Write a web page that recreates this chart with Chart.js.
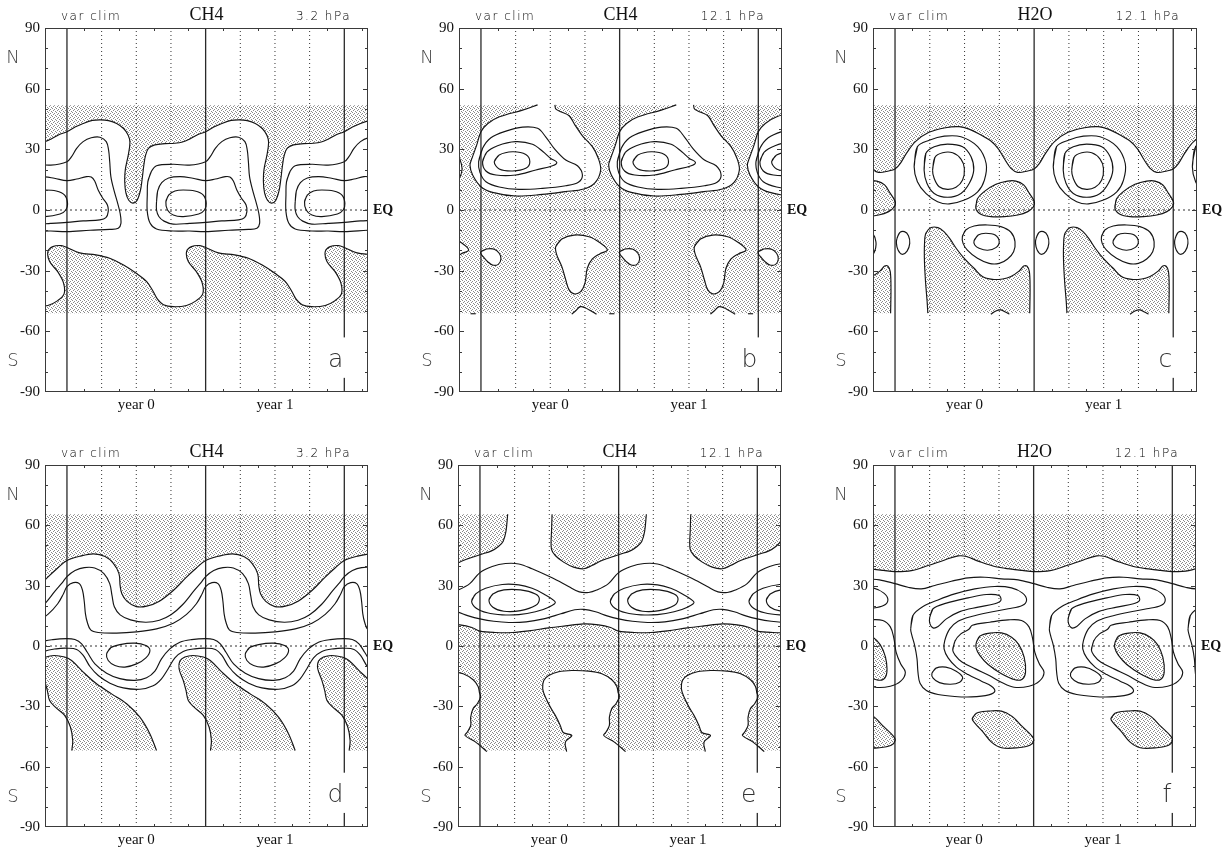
<!DOCTYPE html>
<html>
<head>
<meta charset="utf-8">
<title>var clim CH4 / H2O</title>
<script src="https://cdn.jsdelivr.net/npm/chart.js@4.4.1/dist/chart.umd.min.js"></script>
<style>
  html, body { margin: 0; padding: 0; background: #fff; }
  body { position: relative; width: 1225px; height: 847px; overflow: hidden; }
  .panel { position: absolute; }
</style>
</head>
<body>
<div class="panel" style="left:0px;top:0px"><canvas id="pa" width="410" height="420"></canvas></div>
<div class="panel" style="left:414px;top:0px"><canvas id="pb" width="410" height="420"></canvas></div>
<div class="panel" style="left:828px;top:0px"><canvas id="pc" width="397" height="420"></canvas></div>
<div class="panel" style="left:0px;top:437px"><canvas id="pd" width="410" height="418"></canvas></div>
<div class="panel" style="left:413px;top:437px"><canvas id="pe" width="410" height="418"></canvas></div>
<div class="panel" style="left:828px;top:437px"><canvas id="pf" width="397" height="418"></canvas></div>
<script>
/* Time axis in months from the start of year 0, latitude in degrees. */
const X_MIN = -1.9, X_MAX = 26.05;
const yearLabels  = ['year 0', 'year 1'];
const yearCentres = [6, 18];
const yearBounds  = [0, 12, 24];
const seasonMarks = [3, 6, 9, 15, 18, 21];
const monthTicks  = [1.5, 4.5, 7.5, 10.5, 13.5, 16.5, 19.5, 22.5, 25.5];

const panelIds = ['pa', 'pb', 'pc', 'pd', 'pe', 'pf'];
const species  = ['CH4', 'CH4', 'H2O', 'CH4', 'CH4', 'H2O'];
const levels   = ['3.2 hPa', '12.1 hPa', '12.1 hPa', '3.2 hPa', '12.1 hPa', '12.1 hPa'];
const letters  = ['a', 'b', 'c', 'd', 'e', 'f'];

/* latitude band that carries the shading, per row */
const bandTop    = [-51, 51.8];
const bandBottom = [-52, 65.5];

/* ---- contours: [month, latitude], one climatological year ---- */
// a  CH4 3.2 hPa
const aUpper = [[0,38.7],[0.7,41],[1.4,42.8],[2.2,44.3],[2.9,44.6],[3.6,44.2],[4.3,42.8],[4.9,40.3],[5.3,37],[5.45,33.5],[5.3,27],[5.05,20],[5.0,14],[5.1,8.5],[5.35,4.8],[5.7,3.4],[6.05,4.6],[6.35,9.5],[6.5,15],[6.65,22],[6.8,27],[7.05,30.5],[7.6,32.2],[8.5,32.8],[9.3,33],[10,33.6],[10.6,35],[11.3,37.2],[12,38.7]];
const aLower = [[0,-18.5],[1.1,-21.2],[2.5,-22.2],[3.7,-23.9],[4.9,-27.2],[6.0,-31.3],[6.9,-35.4],[7.45,-40.2],[7.8,-43.8],[8.35,-46.8],[9.2,-47.8],[10.35,-47.2],[11.2,-44.8],[11.75,-41.5],[11.7,-36],[11.2,-30.5],[10.5,-25.5],[10.35,-20.6],[10.78,-18.1],[11.5,-17.6],[12,-18.5]];
const aRing1 = [[7.0,14],[7.3,19],[7.75,21.9],[9.2,22.6],[10.6,22.2],[12,23.9],[12.4,26.4],[12.84,30.5],[13.4,33.8],[14.1,35.7],[14.85,36],[15.4,33.8],[15.6,29.7],[15.7,23.9],[15.8,16.5],[16.06,9.9],[16.35,4.1],[16.6,-1.6],[16.67,-6.6],[16.44,-9],[15.7,-9.6],[14,-10],[12,-10.7],[10.6,-10.4],[9.2,-10.4],[7.75,-9.4],[7.2,-6.6],[6.95,-0.8],[6.95,7.4]];
const aRing2 = [[7.75,4],[7.85,9.5],[8.2,13.5],[8.8,15.8],[9.8,16.5],[10.9,15.7],[12,14.5],[12.84,15.3],[13.7,16.5],[14.1,16.3],[14.4,14.3],[14.7,9.9],[15.1,5.8],[15.5,2.5],[15.57,-0.8],[15.37,-3.8],[14.85,-4.9],[13.4,-5.4],[12,-6.1],[10.6,-6.6],[9.2,-7],[8.4,-5.5],[7.95,-3.2],[7.75,0]];
const aRing3 = [[8.56,4.1],[8.8,7.4],[9.34,9.4],[10.06,9.9],[11.07,9.4],[11.8,7.4],[12.05,3.3],[11.9,0],[11.4,-2],[10.06,-3.3],[9.2,-2.5],[8.7,0]];

// b  CH4 12.1 hPa
const bOuter = [[4.9,52],[3.6,49.4],[1.6,46.1],[0.6,42.8],[0,38.7],[-0.37,32.1],[-0.78,25.5],[-0.95,22.2],[-0.72,17.3],[0,11.5],[1.0,8.7],[3.0,6.9],[5.3,7.7],[7.3,9.1],[8.9,10.4],[9.9,13.7],[10.36,19.8],[10.16,25.5],[9.64,31.3],[8.78,36.7],[8.14,42],[7.63,46.6],[6.9,48.6],[6.47,50],[6.4,52]];
const bRing1 = [[-0.2,23.9],[0.14,30.5],[0.86,35.7],[2.16,39],[3.6,41],[4.9,40.4],[5.6,36.2],[6.33,30.5],[7.34,24.7],[8.35,21.9],[8.78,17.3],[8.43,13.7],[7.34,12],[5.32,10.7],[3.3,10.2],[1.58,11.4],[0.43,14],[-0.09,18.6]];
const bRing2 = [[0.14,23.9],[0.49,28.5],[1.44,31.8],[3.0,33.8],[4.46,32.5],[5.38,28.8],[6.04,25.5],[6.56,23.6],[6.19,21.9],[4.75,19.8],[3.0,17.3],[1.3,17.3],[0.43,19.3]];
const bRing3 = [[1.15,23.9],[1.58,27.2],[2.73,28.8],[3.88,27.5],[4.23,23.9],[3.88,20.6],[2.73,19.3],[1.58,20.3]];
const bHoleSmall = [[0,-20.6],[0.49,-19.3],[1.15,-19.4],[1.58,-21.4],[1.73,-24.2],[1.5,-26.9],[1.0,-27.2],[0.58,-25.5],[0.2,-23.1],[0,-21.6]];
const bHoleLarge = [[6.47,-18.1],[7.0,-14.3],[8.06,-12.4],[9.35,-13.2],[10.27,-16.1],[10.94,-19.8],[10.27,-21.7],[9.64,-24.2],[9.2,-28.8],[9.0,-36.2],[8.63,-40.4],[8.06,-41.5],[7.63,-39.5],[7.34,-34.6],[7.0,-28],[6.56,-22.2]];
const bArch = [[7.85,-51.5],[8.2,-49.8],[8.6,-47.8],[9.0,-48.3],[9.5,-49.8],[10.0,-51.5]];
const bDash = [[11.1,-51.3],[11.55,-51.3]];

// c  H2O 12.1 hPa
const cUpper = [[0,20.3],[0.46,23.1],[0.98,28],[1.76,33.8],[2.92,38.4],[4.36,40.7],[5.52,41.2],[6.39,40],[7.25,37.6],[8.27,34.1],[8.93,30.1],[9.5,24.7],[10,20.6],[10.58,18.6],[11.45,19.3],[12,20.3]];
const cRing1 = [[1.65,21.4],[1.93,31.3],[2.95,34.5],[4.25,36.5],[5.69,36.2],[7.13,31.3],[7.86,23],[7.71,14.8],[7.13,9],[5.98,4.9],[4.68,3],[3.67,4.1],[2.66,8.2],[1.93,14]];
const cRing2 = [[2.51,19.7],[2.66,28],[3.38,31.3],[4.53,32.6],[5.83,31.3],[6.56,26.3],[6.79,19.7],[6.41,13.2],[5.69,8.2],[4.53,6.3],[3.38,8.2],[2.75,13.2]];
const cRing3 = [[3.24,19.7],[3.44,26],[4.1,28.3],[4.97,28.3],[5.69,25.2],[5.98,20.6],[5.83,14.8],[5.26,11.2],[4.53,10.2],[3.81,11.5],[3.38,15.6]];
const cPatchEq = [[6.97,0.8],[7.1,5.4],[7.69,9.1],[8.7,12.7],[9.71,14.3],[10.43,14.3],[11.1,12.4],[11.59,8.2],[12.02,4.1],[11.94,1.6],[11.45,-0.8],[10.58,-2.5],[9.42,-3.3],[8.27,-3.3],[7.4,-2.1]];
const cOval = [[0.17,-14],[0.4,-11.2],[0.81,-10.7],[1.16,-12.7],[1.27,-16.5],[1.04,-20.3],[0.61,-21.9],[0.26,-19.8],[0.12,-16.5]];
const cRingS1 = [[5.81,-13.2],[6.1,-9.9],[6.82,-7.9],[7.98,-7.4],[9.13,-8.2],[10.0,-11],[10.35,-15.7],[10.23,-20.6],[9.71,-24.2],[8.99,-26.4],[8.12,-26.4],[7.11,-23.9],[6.24,-19.8],[5.87,-16.5]];
const cRingS2 = [[6.82,-15.2],[7.17,-12.4],[7.83,-11.5],[8.64,-12.4],[8.99,-15.7],[8.7,-18.6],[7.98,-19.9],[7.25,-18.9],[6.88,-17.3]];
const cLower = [[2.83,-51],[2.77,-45.3],[2.63,-35.4],[2.54,-25.5],[2.54,-17.3],[2.66,-11.5],[3.12,-8.7],[3.7,-8.7],[4.22,-10.7],[4.74,-14.3],[5.32,-19.3],[6.01,-24.2],[6.82,-28.8],[7.54,-32.9],[8.41,-34.3],[9.28,-34.1],[10,-32.9],[10.72,-30.1],[11.1,-27.7],[11.39,-27.8],[11.59,-30.5],[11.65,-38.7],[11.62,-51]];
const cArch = [[8.27,-51.5],[8.7,-49.9],[9.13,-49.4],[9.57,-50.6],[9.86,-51.5]];

// d  CH4 3.2 hPa
const dUpper = [[0,42.5],[1.1,44.6],[2.3,45.8],[3.3,44.5],[4.0,41.2],[4.5,36],[4.6,30],[4.75,26],[5.2,22.2],[6.0,19.6],[6.9,19.8],[8.0,22.3],[9.2,27.6],[10.3,34],[11.2,38.8],[12,42.5]];
const dBand2 = [[0,34.5],[0.7,37.5],[1.5,39],[2.4,38.8],[3.2,36],[3.7,31],[3.9,25],[4.1,19.5],[4.6,15.5],[5.5,13],[6.8,11.8],[8.0,12.8],[9.0,15.5],[10.0,20.5],[11.0,27.5],[11.6,31.5],[12,34.5]];
const dBand3 = [[0,29.5],[0.55,31.5],[1.07,31],[1.35,27.6],[1.5,22],[1.6,16],[1.76,11.8],[2.05,8],[2.7,6.7],[4.3,6.4],[6.0,7],[7.75,8.5],[9.2,11.3],[10.35,15.7],[11.2,21],[11.7,26],[12,29.5]];
const dBand4 = [[0,3.7],[0.69,3.2],[1.27,1.1],[1.76,-3.1],[2.42,-8.9],[3.43,-13.5],[4.58,-16.2],[5.88,-17.1],[6.89,-15.8],[7.61,-12.5],[8.18,-6.4],[8.9,-1.4],[9.77,1.9],[10.78,3.2],[12,3.7]];
const dBand5 = [[0,-1.1],[0.84,-1.7],[1.41,-4.7],[1.99,-10.2],[2.71,-14.7],[3.72,-18.5],[4.87,-20.8],[6.31,-21.5],[7.46,-19.8],[8.18,-16.3],[8.76,-11.3],[9.34,-5.9],[10.06,-2.7],[11.07,-1.4],[12,-1.1]];
const dLower = [[0.42,-52],[0.5,-47],[0.3,-40.3],[-0.2,-34.5],[-1.0,-30.4],[-1.5,-27.1],[-1.7,-22.1],[-1.94,-17.1],[-2.3,-11.3],[-2.23,-7.5],[-1.8,-5.5],[-1.1,-4.7],[-0.2,-5.5],[0.4,-7.2],[1.41,-13],[2.56,-18.8],[3.86,-23.8],[5.16,-28.7],[6.31,-35.4],[7.18,-43.7],[7.75,-52]];
const dLoop = [[3.43,-3.9],[3.78,-0.9],[4.58,0.7],[5.88,1.4],[6.83,0.2],[7.18,-2.2],[6.83,-5.9],[6.02,-8.9],[5.01,-10.5],[4.15,-9.7],[3.57,-7.2]];

// e  CH4 12.1 hPa
const eUpper = [[6.24,65.5],[6.2,58],[6.18,48.3],[6.52,45],[7.24,41.7],[8.1,39.2],[8.97,38.4],[9.68,40],[10.55,42.5],[11.55,44.5],[12.06,45.5],[13.0,47.3],[13.6,49.5],[14.0,52],[14.25,57],[14.4,65.5]];
const eBand2 = [[0,36.5],[1.06,39.5],[2.21,41],[3.36,40.8],[4.51,38.4],[6.24,33.9],[7.67,29.6],[8.6,26.9],[9.4,26.6],[10.1,27.8],[11.12,31],[12,36.5]];
const eRing1 = [[-0.72,22.3],[-0.37,25.9],[0.49,28.7],[1.93,30.6],[3.36,30.4],[4.51,28.7],[5.52,25.9],[6.52,21.8],[5.95,19.3],[4.8,17],[3.36,15.6],[1.93,15.5],[0.63,16.5],[-0.32,18.8]];
const eRing2 = [[0.78,22.9],[1.12,25.9],[2.07,27.9],[3.51,27.9],[4.8,25.9],[5.14,23.4],[4.8,20.1],[3.51,17.6],[2.07,17.3],[1.12,19.3]];
const eBand5 = [[0,13.5],[1.2,12.3],[2.5,11.7],[4,12],[5.5,13.5],[7,16],[8.2,18],[9,18.2],[10,17],[11,15],[12,13.5]];
const eBand6 = [[0,7.4],[1.35,6.7],[2.79,6.7],[4.22,7.5],[5.95,9],[7.39,10],[8.97,11],[10.26,10.5],[11.3,9.2],[12,7.4]];
const eCap = [[7.5,-52.5],[7.39,-47.8],[7.95,-44.5],[7.2,-43],[6.95,-39.5],[6.52,-34.5],[6.09,-30.4],[5.66,-25.4],[5.43,-21.3],[5.52,-17.1],[5.95,-14.7],[6.81,-12.8],[7.96,-12.2],[9.4,-12.5],[10.55,-13.8],[11.41,-16.8],[11.84,-20.1],[11.95,-23],[12.06,-25.3],[11.77,-28.7],[11.4,-31.2],[11.2,-35.4],[11.2,-39.5],[10.91,-42.8],[10.71,-44.5],[11.63,-47.8],[12.6,-52.5]];

// f  H2O 12.1 hPa
const fUpper = [[0,37],[1.42,37.5],[2.86,40],[4.31,42.8],[5.46,44.8],[6.18,44.5],[7.2,42.2],[8.64,39.5],[10.09,38.2],[11,37.6],[12,37]];
const fBand2 = [[0,31],[1.13,29.2],[2.28,28.4],[3.44,30.1],[4.88,32.2],[6.33,33.9],[7.77,34.2],[9.22,33.4],[10.66,32.9],[12,31]];
const fHook = [[1.36,8.5],[1.56,15.2],[2.43,19.6],[3.73,22.9],[5.17,25.9],[6.91,28.4],[8.64,29.6],[10.09,28.9],[11.04,26.3],[11.39,22.9],[11.01,20.1],[9.8,18.5],[8.21,16.8],[6.62,14.7],[5.46,12.3],[4.74,8.5],[4.31,2.7],[4.25,-1.4],[4.6,-5.9],[5.32,-10.5],[6.33,-14.2],[7.49,-17.5],[8.35,-20],[8.64,-22.5],[8.12,-24.3],[6.62,-25.3],[5.17,-25.1],[3.73,-24.1],[2.72,-22.1],[2.17,-18.5],[1.99,-13],[1.91,-6.4],[1.71,0.2],[1.47,5.2]];
const fHookTop = [[3.0,14],[3.29,18.5],[4.45,21.3],[6.33,23.9],[7.92,25.6],[9.02,25.1],[9.16,22.6],[8.64,21],[7.2,19.3],[5.61,17.1],[4.45,13.5],[3.73,9.7],[3.29,9],[3.03,11]];
const fHookLow = [[3.2,-13.5],[3.55,-11],[4.4,-10.5],[5.3,-12.5],[5.85,-15.5],[5.6,-18],[4.8,-19],[3.85,-18.2],[3.3,-16]];
const fRing = [[5.0,-2],[5.2,2.5],[5.7,6],[6.4,8.3],[6.7,10.3],[8.2,11.8],[9.8,13],[10.95,12.7],[11.6,9.5],[11.9,4],[12.1,-3],[12.5,-9],[12.9,-13],[12.5,-17.5],[11.6,-20],[10.3,-20.5],[9.2,-18],[8.2,-14.8],[7.0,-11.5],[5.8,-8],[5.2,-4.5]];
const fPatchEq = [[7.05,1.9],[7.34,4.9],[8.21,6.4],[9.22,6.5],[10.09,4.4],[10.72,0.7],[11.18,-5.5],[11.3,-13],[11.01,-16.5],[10.38,-16.8],[9.22,-13.8],[8.06,-9.2],[7.34,-4.7],[7.02,-0.9]];
const fPatchS = [[6.68,-36.2],[7.05,-33.4],[8.06,-32.4],[9.22,-32.4],[10.14,-35],[11.01,-40],[11.88,-44.9],[12.02,-46.9],[11.68,-49.4],[10.66,-50.6],[9.22,-50.6],[8.35,-47.8],[7.63,-42.8],[6.97,-38.7]];

/* ---- the climatological year is shown for two consecutive years ---- */
const REPEATS = [-1, 0, 1, 2];
const pt = (m, v, k) => ({ x: m + 12 * k, y: v });
function tile(pts) {                       // contour that runs on from year to year
  const out = [];
  REPEATS.forEach(k => pts.forEach(([m, v], i) => { if (!(i === 0 && out.length)) out.push(pt(m, v, k)); }));
  return out;
}
function copies(pts) { return REPEATS.map(k => pts.map(([m, v]) => pt(m, v, k))); }
function loops(pts) {
  return REPEATS.map(k => pts.concat([pts[0], pts[1]]).map(([m, v]) => pt(m, v, k)));
}
// close a tiled contour against a band edge; doubled corners keep the edge straight
function capAt(line, v) {
  const a = line[line.length - 1].x, b = line[0].x;
  return line.concat([{ x: a, y: v }, { x: a, y: v }, { x: b, y: v }, { x: b, y: v }]);
}
const bandRect = ([lo, hi]) => ({ straight: true, pts: [{ x: -4, y: lo }, { x: 30, y: lo }, { x: 30, y: hi }, { x: -4, y: hi }] });

const scenes = {
  pa: {
    stipple: [bandRect(bandTop)],
    clear: [tile(aUpper).concat(tile(aLower).reverse())],
    lines: [tile(aUpper), tile(aLower), ...loops(aRing1), ...loops(aRing2), ...loops(aRing3)]
  },
  pb: {
    stipple: [bandRect(bandTop)],
    clear: [...copies(bOuter), ...loops(bHoleSmall), ...loops(bHoleLarge), ...copies(bArch)],
    lines: [...copies(bOuter), ...loops(bRing1), ...loops(bRing2), ...loops(bRing3),
            ...loops(bHoleSmall), ...loops(bHoleLarge), ...copies(bArch), ...copies(bDash)]
  },
  pc: {
    stipple: [capAt(tile(cUpper), bandTop[1]), ...loops(cPatchEq), ...copies(cLower)],
    clear: [...copies(cArch)],
    lines: [tile(cUpper), ...loops(cRing1), ...loops(cRing2), ...loops(cRing3), ...loops(cPatchEq),
            ...loops(cOval), ...loops(cRingS1), ...loops(cRingS2), ...copies(cLower), ...copies(cArch)]
  },
  pd: {
    stipple: [capAt(tile(dUpper), bandBottom[1]), ...copies(dLower)],
    clear: [],
    lines: [tile(dUpper), tile(dBand2), tile(dBand3), tile(dBand4), tile(dBand5), ...copies(dLower), ...loops(dLoop)]
  },
  pe: {
    stipple: [...copies(eUpper), capAt(tile(eBand6), bandBottom[0])],
    clear: [...copies(eCap)],
    lines: [...copies(eUpper), tile(eBand2), ...loops(eRing1), ...loops(eRing2), tile(eBand5), tile(eBand6), ...copies(eCap)]
  },
  pf: {
    stipple: [capAt(tile(fUpper), bandBottom[1]), ...loops(fPatchEq), ...loops(fPatchS)],
    clear: [],
    lines: [tile(fUpper), tile(fBand2), ...loops(fHook), ...loops(fHookTop), ...loops(fHookLow),
            ...loops(fRing), ...loops(fPatchEq), ...loops(fPatchS)]
  }
};

/* ---- styling ---- */
const INK = '#151515';
const SERIF = '"Liberation Serif", "Times New Roman", serif';
const THIN = '"DejaVu Sans", "Liberation Sans", sans-serif';

// fine staggered dot screen used for the shaded band
function stipplePattern(ctx) {
  const tileCanvas = document.createElement('canvas');
  tileCanvas.width = 4; tileCanvas.height = 4;
  const g = tileCanvas.getContext('2d');
  g.fillStyle = '#8a8a8a';
  g.fillRect(0, 0, 1, 1); g.fillRect(2, 1, 1, 1); g.fillRect(1, 2, 1, 1); g.fillRect(3, 3, 1, 1);
  return ctx.createPattern(tileCanvas, 'repeat');
}

function areaSet(shape, colour, order) {
  const straight = !Array.isArray(shape);
  return {
    data: straight ? shape.pts : shape,
    backgroundColor: colour, borderColor: 'rgba(0,0,0,0)', borderWidth: 0,
    pointRadius: 0, fill: 'shape', tension: straight ? 0 : 0.35, order
  };
}
function contourSet(pts) {
  return { data: pts, borderColor: INK, borderWidth: 1.15, pointRadius: 0, fill: false, tension: 0.35, order: 1 };
}
function guideSets() {
  const out = [];
  yearBounds.forEach(m => out.push({
    data: [{ x: m, y: -90 }, { x: m, y: 90 }], borderColor: '#2a2a2a', borderWidth: 1.3,
    pointRadius: 0, fill: false, tension: 0, order: 5
  }));
  seasonMarks.forEach(m => out.push({
    data: [{ x: m, y: -90 }, { x: m, y: 90 }], borderColor: '#333', borderWidth: 1, borderDash: [1, 3],
    pointRadius: 0, fill: false, tension: 0, order: 5
  }));
  out.push({
    data: [{ x: X_MIN, y: 0 }, { x: X_MAX, y: 0 }], borderColor: '#333', borderWidth: 1, borderDash: [2, 3],
    pointRadius: 0, fill: false, tension: 0, order: 5
  });
  return out;
}

/* frame, inward ticks and the panel texts */
const panelDecor = {
  id: 'panelDecor',
  afterDatasetsDraw(chart, args, o) {
    const { ctx, scales: { x, y } } = chart;
    const xl = x.getPixelForValue(yearBounds[2]);
    ctx.save();
    ctx.fillStyle = '#fff';
    const g0 = y.getPixelForValue(-63), g1 = y.getPixelForValue(-83);
    ctx.fillRect(xl - 2, g0, 4, g1 - g0);
    ctx.font = '200 25px ' + THIN;
    ctx.fillStyle = '#333';
    ctx.textAlign = 'right';
    ctx.textBaseline = 'alphabetic';
    ctx.fillText(o.letter, xl - 1, y.getPixelForValue(-77.6));
    ctx.restore();
  },
  afterDraw(chart, args, o) {
    const { ctx, chartArea: a, scales: { x, y } } = chart;
    ctx.save();
    ctx.strokeStyle = '#3a3a3a';
    ctx.lineWidth = 1;
    ctx.strokeRect(a.left + 0.5, a.top + 0.5, a.right - a.left - 1, a.bottom - a.top - 1);
    ctx.beginPath();
    for (let lat = -80; lat <= 80; lat += 10) {
      const py = Math.round(y.getPixelForValue(lat)) + 0.5;
      const len = lat % 30 === 0 ? 5 : 3;
      ctx.moveTo(a.left, py); ctx.lineTo(a.left + len, py);
      ctx.moveTo(a.right, py); ctx.lineTo(a.right - len, py);
    }
    monthTicks.forEach(m => {
      const px = Math.round(x.getPixelForValue(m)) + 0.5;
      if (px <= a.left || px >= a.right) return;
      ctx.moveTo(px, a.bottom); ctx.lineTo(px, a.bottom - 3);
      ctx.moveTo(px, a.top); ctx.lineTo(px, a.top + 3);
    });
    ctx.stroke();

    ctx.fillStyle = '#111';
    ctx.textBaseline = 'alphabetic';
    ctx.font = '18px ' + SERIF;
    ctx.textAlign = 'center';
    ctx.fillText(o.title, (a.left + a.right) / 2, a.top - 8);

    ctx.font = '200 12px ' + THIN;
    ctx.letterSpacing = '1.5px';
    ctx.fillStyle = '#000';
    ctx.textAlign = 'left';
    ctx.fillText('var clim', a.left + 16, a.top - 8);
    ctx.textAlign = 'right';
    ctx.fillText(o.level, a.right - 17, a.top - 8);
    ctx.letterSpacing = '0px';

    ctx.font = '200 18px ' + THIN;
    ctx.fillStyle = '#444';
    ctx.textAlign = 'center';
    ctx.textBaseline = 'middle';
    ctx.fillText('N', a.left - 32, y.getPixelForValue(75));
    ctx.fillText('S', a.left - 32, y.getPixelForValue(-75));

    ctx.font = 'bold 14px ' + SERIF;
    ctx.fillStyle = '#111';
    ctx.textAlign = 'left';
    ctx.fillText('EQ', a.right + 5, y.getPixelForValue(0));
    ctx.restore();
  }
};

panelIds.forEach((id, i) => {
  const canvas = document.getElementById(id);
  const ctx = canvas.getContext('2d');
  const scene = scenes[id];
  const dots = stipplePattern(ctx);
  const plotW = id === 'pc' ? 324 : 323;
  const datasets = [
    ...scene.stipple.map(s => areaSet(s, dots, 40)),
    ...scene.clear.map(s => areaSet(s, '#ffffff', 30)),
    ...guideSets(),
    ...scene.lines.map(contourSet)
  ];
  new Chart(ctx, {
    type: 'line',
    data: { datasets },
    plugins: [panelDecor],
    options: {
      responsive: false,
      animation: false,
      events: [],
      layout: { padding: { top: 28, right: canvas.width - 45 - plotW, left: 0, bottom: 0 } },
      plugins: {
        legend: { display: false },
        tooltip: { enabled: false },
        panelDecor: { title: species[i], level: levels[i], letter: letters[i] }
      },
      scales: {
        x: {
          type: 'linear', min: X_MIN, max: X_MAX,
          grid: { display: false, drawTicks: false },
          border: { display: false },
          afterBuildTicks: s => { s.ticks = yearCentres.map(v => ({ value: v })); },
          afterFit: s => { s.height = 28; },
          ticks: {
            autoSkip: false, maxRotation: 0, padding: 4, color: '#111',
            font: { family: SERIF, size: 15 },
            callback: v => yearLabels[yearCentres.indexOf(v)] || ''
          }
        },
        y: {
          type: 'linear', min: -90, max: 90,
          grid: { display: false, drawTicks: false },
          border: { display: false },
          afterFit: s => { s.width = 45; },
          ticks: { stepSize: 30, padding: 5, color: '#111', font: { family: SERIF, size: 15 } }
        }
      }
    }
  });
});
</script>
</body>
</html>
